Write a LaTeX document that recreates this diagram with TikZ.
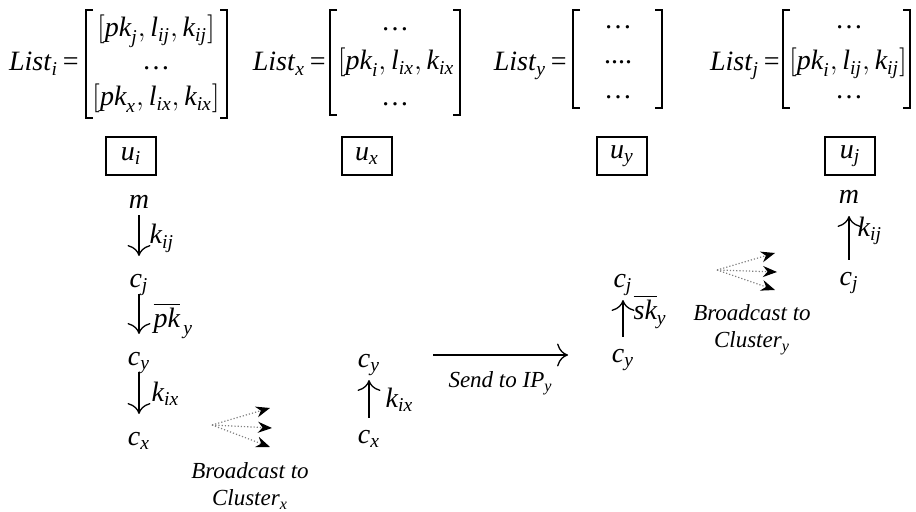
\documentclass[tikz,border=0pt]{standalone}
\usepackage{amsmath}
\usepackage{fontspec}
\setmainfont{Liberation Serif}
\usetikzlibrary{arrows.meta, positioning}

\newcommand{\iv}[1]{\textit{#1}}
\newcommand{\mathsize}{\fontsize{14}{16}\selectfont}
\newcommand{\notesize}{\fontsize{11.5}{13.5}\selectfont}

\begin{document}
\begin{tikzpicture}[
    x=0.5pt, y=-0.5pt,
    var/.style={inner sep=0pt, text height=1.6ex, text depth=.5ex, font=\mathsize},
    row/.style={inner sep=0pt, anchor=base, font=\mathsize},
    lbl/.style={anchor=west, inner sep=0pt, font=\mathsize},
    user/.style={draw, line width=1pt, minimum width=25pt, minimum height=19pt, inner sep=0pt, font=\mathsize},
    brk/.style={draw, line width=0.8pt},
    line/.style={draw, -{To[scale=1.8]}, line width=0.65pt},
    down/.style={line, shorten <=1pt, shorten >=8pt},
    up/.style={line, shorten <=5pt, shorten >=4pt},
    cast/.style={draw, densely dotted, gray, line width=0.6pt, -{Stealth[length=7pt, width=5.5pt, color=black]}},
    note/.style={align=center, inner sep=0pt, font=\notesize\itshape}
]
\useasboundingbox (0,0) rectangle (916,512);

% lists held by the users
\node [row, anchor=base east] (listi) at (79,71) {\iv{List}$_{\iv{i}}$\,=};
\draw [brk] (93,10) -- (86,10) -- (86,118) -- (93,118);
\draw [brk] (220,10) -- (227,10) -- (227,118) -- (220,118);
\node [row] (listi-1) at (156,37) {$[\iv{pk}_{\iv{j}},\iv{l}_{\iv{ij}},\iv{k}_{\iv{ij}}]$};
\node [row] (listi-2) at (156,70) {\ldots};
\node [row] (listi-3) at (156,106) {$[\iv{pk}_{\iv{x}},\iv{l}_{\iv{ix}},\iv{k}_{\iv{ix}}]$};

\node [row, anchor=base east] (listx) at (326,71) {\iv{List}$_{\iv{x}}$\,=};
\draw [brk] (337,10) -- (330,10) -- (330,115) -- (337,115);
\draw [brk] (453,10) -- (460,10) -- (460,115) -- (453,115);
\node [row] (listx-1) at (395,31) {\ldots};
\node [row] (listx-2) at (396,70) {$[\iv{pk}_{\iv{i}},\iv{l}_{\iv{ix}},\iv{k}_{\iv{ix}}$};
\node [row] (listx-3) at (395,106) {\ldots};

\node [row, anchor=base east] (listy) at (567,71) {\iv{List}$_{\iv{y}}$\,=};
\draw [brk] (580,10) -- (573,10) -- (573,108) -- (580,108);
\draw [brk] (655,10) -- (662,10) -- (662,108) -- (655,108);
\node [row] (listy-1) at (618,29) {\ldots};
\node [row] (listy-2) at (618,64) {....};
\node [row] (listy-3) at (618,99) {\ldots};

\node [row, anchor=base east] (listj) at (780,71) {\iv{List}$_{\iv{j}}$\,=};
\draw [brk] (790,10) -- (783,10) -- (783,108) -- (790,108);
\draw [brk] (903,10) -- (910,10) -- (910,108) -- (903,108);
\node [row] (listj-1) at (849,29) {\ldots};
\node [row] (listj-2) at (848,70) {$[\iv{pk}_{\iv{i}},\iv{l}_{\iv{ij}},\iv{k}_{\iv{ij}}]$};
\node [row] (listj-3) at (849,99) {\ldots};

% users
\node [user] (ui) at (131,156) {$\iv{u}_{\iv{i}}$};
\node [user] (ux) at (367,156) {$\iv{u}_{\iv{x}}$};
\node [user] (uy) at (622,156) {$\iv{u}_{\iv{y}}$};
\node [user] (uj) at (850,156) {$\iv{u}_{\iv{j}}$};

% encryption at u_i
\node [var] (m1) at (139,203) {$\iv{m}$};
\node [var] (cj1) at (139,282) {$\iv{c}_{\iv{j}}$};
\node [var] (cy1) at (139,360) {$\iv{c}_{\iv{y}}$};
\node [var] (cx1) at (139,440) {$\iv{c}_{\iv{x}}$};
\path [down] (m1) -- (cj1) node [lbl, midway, xshift=5pt, yshift=2pt] {$\iv{k}_{\iv{ij}}$};
\path [down] (cj1) -- (cy1) node [lbl, midway, xshift=7pt] {$\overline{\iv{pk}}_{\,\iv{y}}$};
\path [down] (cy1) -- (cx1) node [lbl, midway, xshift=6pt, yshift=3pt] {$\iv{k}_{\iv{ix}}$};

\coordinate (bcx) at (212,425);
\coordinate (bcx1) at (270,408);
\coordinate (bcx2) at (272,428);
\coordinate (bcx3) at (270,447);
\path [cast] (bcx) -- (bcx1);
\path [cast] (bcx) -- (bcx2);
\path [cast] (bcx) -- (bcx3);
\node [note] (castx) at (250,486) {Broadcast to\\Cluster$_{\iv{x}}$};

% u_x forwards
\node [var] (cy2) at (369,362) {$\iv{c}_{\iv{y}}$};
\node [var] (cx2) at (369,438) {$\iv{c}_{\iv{x}}$};
\path [up] (cx2) -- (cy2) node [lbl, midway, xshift=8pt] {$\iv{k}_{\iv{ix}}$};

\coordinate (sendA) at (433,355);
\coordinate (sendB) at (568,355);
\path [line] (sendA) -- (sendB) node [note, midway, below=8pt] {Send to IP$_{\iv{y}}$};

% u_y re-encrypts
\node [var] (cj3) at (623,282) {$\iv{c}_{\iv{j}}$};
\node [var] (cy3) at (623,357) {$\iv{c}_{\iv{y}}$};
\path [up] (cy3) -- (cj3) node [lbl, midway, xshift=5pt, yshift=4pt] {$\overline{\iv{sk}}_{\iv{y}}$};

\coordinate (bcy) at (717,270);
\coordinate (bcy1) at (775,253);
\coordinate (bcy2) at (777,272);
\coordinate (bcy3) at (775,290);
\path [cast] (bcy) -- (bcy1);
\path [cast] (bcy) -- (bcy2);
\path [cast] (bcy) -- (bcy3);
\node [note] (casty) at (752,330) {Broadcast to\\Cluster$_{\iv{y}}$};

% decryption at u_j
\node [var] (m4) at (849,198) {$\iv{m}$};
\node [var] (cj4) at (849,280) {$\iv{c}_{\iv{j}}$};
\path [up] (cj4) -- (m4) node [lbl, midway, xshift=4pt, yshift=4pt] {$\iv{k}_{\iv{ij}}$};

\end{tikzpicture}
\end{document}
